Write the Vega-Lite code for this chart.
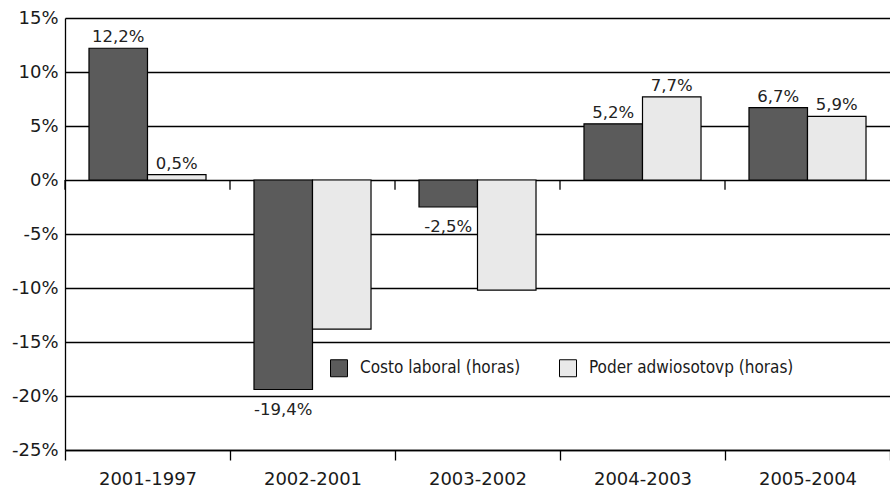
{
  "$schema": "https://vega.github.io/schema/vega-lite/v6.json",
  "width": 825,
  "height": 432,
  "autosize": {"type": "none"},
  "padding": {"left": 65, "top": 18, "right": 0, "bottom": 39},
  "background": "white",
  "config": {
    "view": {"stroke": null},
    "font": "DejaVu Sans",
    "locale": {"number": {"decimal": ",", "thousands": ".", "grouping": [3], "currency": ["", " €"], "minus": "-"}}
  },
  "data": {
    "values": [
      {"periodo": "2001-1997", "serie": "Costo laboral (horas)", "valor": 0.122, "etiqueta": "12,2%"},
      {"periodo": "2001-1997", "serie": "Poder adwiosotovp (horas)", "valor": 0.005, "etiqueta": "0,5%"},
      {"periodo": "2002-2001", "serie": "Costo laboral (horas)", "valor": -0.194, "etiqueta": "-19,4%"},
      {"periodo": "2002-2001", "serie": "Poder adwiosotovp (horas)", "valor": -0.138, "etiqueta": ""},
      {"periodo": "2003-2002", "serie": "Costo laboral (horas)", "valor": -0.025, "etiqueta": "-2,5%"},
      {"periodo": "2003-2002", "serie": "Poder adwiosotovp (horas)", "valor": -0.102, "etiqueta": ""},
      {"periodo": "2004-2003", "serie": "Costo laboral (horas)", "valor": 0.052, "etiqueta": "5,2%"},
      {"periodo": "2004-2003", "serie": "Poder adwiosotovp (horas)", "valor": 0.077, "etiqueta": "7,7%"},
      {"periodo": "2005-2004", "serie": "Costo laboral (horas)", "valor": 0.067, "etiqueta": "6,7%"},
      {"periodo": "2005-2004", "serie": "Poder adwiosotovp (horas)", "valor": 0.059, "etiqueta": "5,9%"}
    ]
  },
  "encoding": {
    "x": {
      "field": "periodo",
      "type": "nominal",
      "sort": null,
      "scale": {"paddingInner": 0, "paddingOuter": 0},
      "axis": {
        "title": null,
        "labelAngle": 0,
        "labelFontSize": 18,
        "labelColor": "#1a1a1a",
        "labelPadding": 10,
        "tickBand": "extent",
        "tickSize": 10,
        "tickColor": "black",
        "tickWidth": 1.3,
        "domainColor": "black",
        "domainWidth": 1.3,
        "grid": false
      }
    }
  },
  "layer": [
    {
      "mark": {"type": "bar", "stroke": "black", "strokeWidth": 1.2},
      "encoding": {
        "xOffset": {"field": "serie", "type": "nominal", "scale": {"paddingInner": 0, "paddingOuter": 0.41}},
        "y": {
          "field": "valor",
          "type": "quantitative",
          "scale": {"domain": [-0.25, 0.15], "nice": false, "zero": false},
          "axis": {
            "title": null,
            "format": ".0%",
            "values": [-0.25, -0.2, -0.15, -0.1, -0.05, 0, 0.05, 0.1, 0.15],
            "labelFontSize": 18,
            "labelColor": "#1a1a1a",
            "labelPadding": 7,
            "ticks": false,
            "domainColor": "black",
            "domainWidth": 1.3,
            "grid": true,
            "gridColor": "black",
            "gridWidth": 1.3,
            "gridOpacity": 1
          }
        },
        "fill": {
          "field": "serie",
          "type": "nominal",
          "scale": {"range": ["#5b5b5b", "#e9e9e9"]},
          "legend": {
            "title": null,
            "orient": "none",
            "direction": "horizontal",
            "legendX": 265,
            "legendY": 341,
            "symbolType": "square",
            "symbolSize": 289,
            "symbolStrokeColor": "black",
            "symbolStrokeWidth": 1,
            "symbolOpacity": 1,
            "labelFontSize": 17,
            "labelFont": "DejaVu Sans Condensed",
            "labelColor": "#1a1a1a",
            "labelOffset": 12,
            "labelLimit": 400,
            "columnPadding": 36
          }
        }
      }
    },
    {
      "transform": [{"filter": "datum.valor >= 0"}],
      "mark": {"type": "text", "baseline": "bottom", "dy": -3, "fontSize": 16.5, "color": "#222"},
      "encoding": {
        "xOffset": {"field": "serie", "type": "nominal", "scale": {"paddingInner": 0, "paddingOuter": 0.41}},
        "y": {"field": "valor", "type": "quantitative"},
        "text": {"field": "etiqueta"}
      }
    },
    {
      "transform": [{"filter": "datum.valor < 0"}],
      "mark": {"type": "text", "baseline": "top", "dy": 12, "fontSize": 16.5, "color": "#222"},
      "encoding": {
        "xOffset": {"field": "serie", "type": "nominal", "scale": {"paddingInner": 0, "paddingOuter": 0.41}},
        "y": {"field": "valor", "type": "quantitative"},
        "text": {"field": "etiqueta"}
      }
    },
    {
      "transform": [{"filter": "datum.serie == 'Costo laboral (horas)'"}],
      "mark": {"type": "rule", "color": "black", "strokeWidth": 1.3},
      "encoding": {
        "x": {"field": "periodo", "type": "nominal", "sort": null, "bandPosition": 0},
        "y": {"datum": 0},
        "y2": {"datum": -0.009}
      }
    }
  ]
}
